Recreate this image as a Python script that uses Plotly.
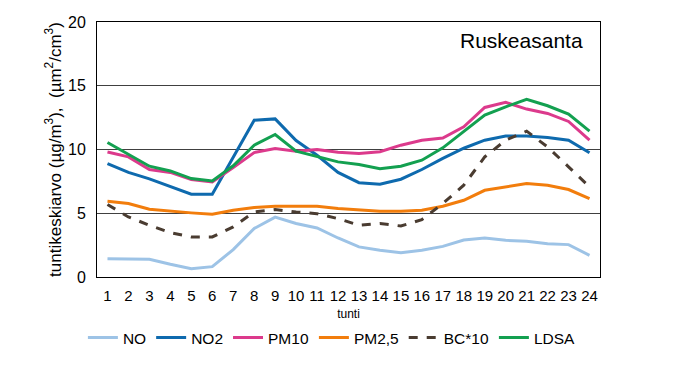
import plotly.graph_objects as go

hours = list(range(1, 25))
NO = [1.44, 1.39, 1.39, 1.0, 0.65, 0.81, 2.15, 3.8, 4.7, 4.2, 3.85, 3.06, 2.36, 2.1,
      1.9, 2.1, 2.4, 2.9, 3.06, 2.88, 2.8, 2.6, 2.54, 1.7]
NO2 = [8.9, 8.2, 7.7, 7.07, 6.5, 6.5, 9.4, 12.3, 12.4, 10.7, 9.55, 8.2, 7.4, 7.28,
       7.67, 8.43, 9.3, 10.1, 10.73, 11.05, 11.05, 10.94, 10.73, 9.74]
PM10 = [9.8, 9.42, 8.43, 8.2, 7.64, 7.46, 8.59, 9.76, 10.08, 9.87, 10.0, 9.79, 9.69, 9.82,
        10.34, 10.73, 10.9, 11.78, 13.3, 13.7, 13.17, 12.83, 12.2, 10.73]
PM25 = [5.94, 5.76, 5.31, 5.16, 5.03, 4.92, 5.24, 5.45, 5.55, 5.55, 5.55, 5.37, 5.29, 5.16,
        5.16, 5.24, 5.55, 6.02, 6.8, 7.07, 7.33, 7.2, 6.86, 6.15]
BC10 = [5.68, 4.71, 4.06, 3.48, 3.14, 3.14, 3.93, 5.1, 5.29, 5.1, 4.97, 4.58, 4.06, 4.19,
        4.0, 4.5, 5.76, 7.2, 9.42, 10.73, 11.44, 10.2, 8.64, 7.07]
LDSA = [10.55, 9.63, 8.69, 8.32, 7.72, 7.54, 8.72, 10.34, 11.18, 9.87, 9.48, 9.03, 8.82, 8.5,
        8.69, 9.16, 10.13, 11.39, 12.7, 13.35, 13.93, 13.43, 12.77, 11.44]

series = [
    ("NO", NO, "#9DC3E6", "solid"),
    ("NO2", NO2, "#0E6AAE", "solid"),
    ("PM10", PM10, "#DC3A8C", "solid"),
    ("PM2,5", PM25, "#F27D0C", "solid"),
    ("BC*10", BC10, "#4A3C31", "dash"),
    ("LDSA", LDSA, "#13A050", "solid"),
]

fig = go.Figure()
for name, vals, col, dash in series:
    fig.add_trace(go.Scatter(x=hours, y=vals, name=name, mode="lines",
                             line=dict(color=col, width=3, dash=dash)))

fig.update_layout(
    width=676, height=384,
    margin=dict(l=89, r=84, t=14, b=115, autoexpand=False),
    paper_bgcolor="white", plot_bgcolor="white",
    font=dict(family="Liberation Sans, Arial", color="black", size=15),
    legend=dict(orientation="h", x=0.467, xanchor="center", y=-0.239, yanchor="middle",
                font=dict(size=15.5), itemwidth=30, tracegroupgap=0),
    xaxis=dict(
        tickmode="array", tickvals=hours, ticktext=[str(h) for h in hours],
        range=[0.5, 24.5], showgrid=False, zeroline=False, automargin=False,
        showline=True, linecolor="black", linewidth=1, mirror=True,
        ticks="", tickfont=dict(size=15), ticklabelstandoff=5,
        title=dict(text="tunti", font=dict(size=12), standoff=6),
    ),
    yaxis=dict(
        range=[0, 20], tickvals=[0, 5, 10, 15, 20], showgrid=True,
        gridcolor="#404040", gridwidth=1, zeroline=False, automargin=False,
        showline=True, linecolor="black", linewidth=1, mirror=True,
        ticks="", tickfont=dict(size=16), ticklabelstandoff=7,
        title=dict(text="tuntikeskiarvo (µg/m<sup>3</sup>),  (µm<sup>2</sup>/cm<sup>3</sup>)",
                   font=dict(size=17), standoff=2),
    ),
    annotations=[dict(text="Ruskeasanta", xref="paper", yref="paper", x=0.97, y=0.98,
                      xanchor="right", yanchor="top", showarrow=False,
                      font=dict(size=21, color="black"))],
)

fig.write_html("out.html")
